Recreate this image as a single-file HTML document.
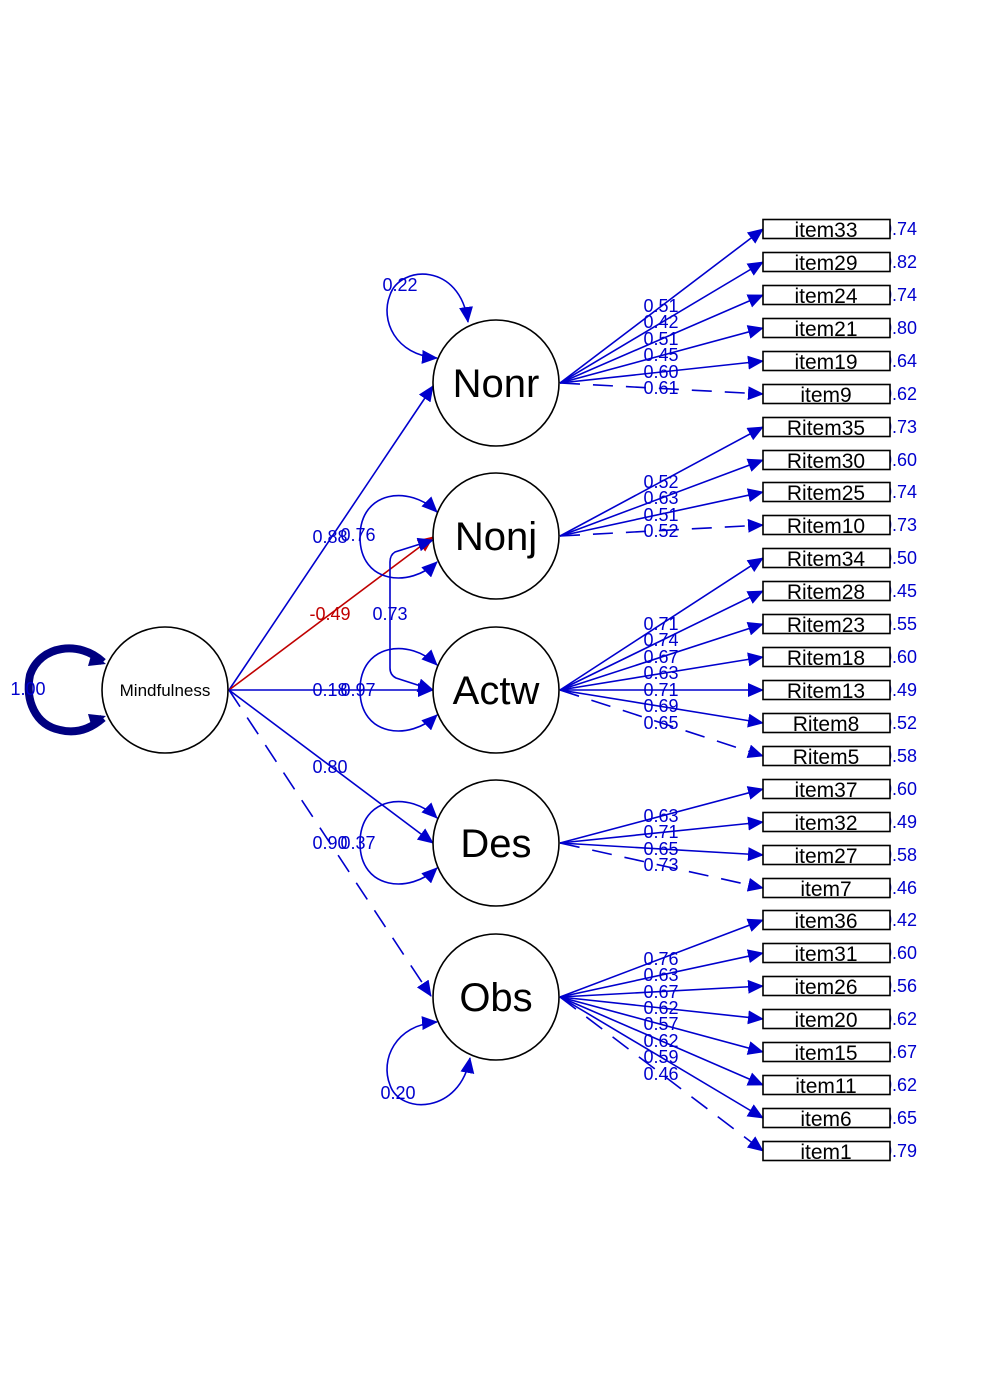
<!DOCTYPE html>
<html><head><meta charset="utf-8"><style>
html,body{margin:0;padding:0;background:#fff}
svg{display:block}
text{font-family:"Liberation Sans",sans-serif}
.b{stroke:#0000CD;stroke-width:1.6;fill:none}
.d{stroke-dasharray:20 13}
.l{fill:#0000CD;font-size:18px;text-anchor:middle}
.box{fill:#fff;stroke:#000;stroke-width:1.6}
.it{font-size:21px;text-anchor:middle;fill:#000}
.r{fill:#0000CD;font-size:18px}
.lat{fill:#fff;stroke:#000;stroke-width:1.6}
.lt{font-size:40px;text-anchor:middle;fill:#000}
</style></head><body>
<svg width="992" height="1381" viewBox="0 0 992 1381" xmlns="http://www.w3.org/2000/svg">
<defs>
<marker id="a" markerUnits="userSpaceOnUse" markerWidth="16" markerHeight="14" refX="15" refY="7" orient="auto"><path d="M0,0 L16,7 L0,14 z" fill="#0000CD"/></marker>
<marker id="ar" markerUnits="userSpaceOnUse" markerWidth="16" markerHeight="14" refX="15" refY="7" orient="auto"><path d="M0,0 L16,7 L0,14 z" fill="#C00000"/></marker>
<marker id="as" markerUnits="userSpaceOnUse" markerWidth="16" markerHeight="14" refX="1" refY="7" orient="auto"><path d="M16,0 L0,7 L16,14 z" fill="#0000CD"/></marker>
</defs>

<path d="M103,662 C80,640 40,645 30,675 C25,700 35,725 60,730 C80,735 95,725 103,718" stroke="#000080" stroke-width="8" fill="none"/>
<path d="M92,652 L106,664 L88,666 z" fill="#000080"/>
<path d="M92,728 L106,716 L88,714 z" fill="#000080"/>

<line class="b" x1="229" y1="690" x2="433" y2="386" marker-end="url(#a)"/>
<line x1="229" y1="690" x2="433" y2="537" stroke="#C00000" stroke-width="1.6" marker-end="url(#ar)"/>
<line class="b" x1="229" y1="690" x2="433" y2="690" marker-end="url(#a)"/>
<line class="b" x1="229" y1="690" x2="433" y2="843" marker-end="url(#a)"/>
<line class="b d" x1="229" y1="690" x2="431" y2="996" marker-end="url(#a)"/>

<path class="b" d="M437,358 C395,355 380,320 390,295 C400,265 460,262 468,322" marker-start="url(#as)" marker-end="url(#a)"/>
<path class="b" d="M437,512 C410,485 360,490 360,537 C360,584 410,588 437,562" marker-start="url(#as)" marker-end="url(#a)"/>
<path class="b" d="M437,665 C410,638 360,643 360,690 C360,737 410,741 437,715" marker-start="url(#as)" marker-end="url(#a)"/>
<path class="b" d="M437,818 C410,791 360,796 360,843 C360,890 410,894 437,868" marker-start="url(#as)" marker-end="url(#a)"/>
<path class="b" d="M437,1022 C395,1025 380,1060 390,1085 C400,1115 460,1114 470,1058" marker-start="url(#as)" marker-end="url(#a)"/>
<path class="b" d="M433,540 L395,552 Q390,555 390,562 L390,668 Q390,675 396,678 L433,690" marker-start="url(#as)" marker-end="url(#a)"/>

<g class="b">
<line x1="560" y1="383" x2="763" y2="229" marker-end="url(#a)"/>
<line x1="560" y1="383" x2="763" y2="262" marker-end="url(#a)"/>
<line x1="560" y1="383" x2="763" y2="295" marker-end="url(#a)"/>
<line x1="560" y1="383" x2="763" y2="328" marker-end="url(#a)"/>
<line x1="560" y1="383" x2="763" y2="361" marker-end="url(#a)"/>
<line class="d" x1="560" y1="383" x2="763" y2="394" marker-end="url(#a)"/>
<line x1="560" y1="536" x2="763" y2="427" marker-end="url(#a)"/>
<line x1="560" y1="536" x2="763" y2="460" marker-end="url(#a)"/>
<line x1="560" y1="536" x2="763" y2="492" marker-end="url(#a)"/>
<line class="d" x1="560" y1="536" x2="763" y2="525" marker-end="url(#a)"/>
<line x1="560" y1="690" x2="763" y2="558" marker-end="url(#a)"/>
<line x1="560" y1="690" x2="763" y2="591" marker-end="url(#a)"/>
<line x1="560" y1="690" x2="763" y2="624" marker-end="url(#a)"/>
<line x1="560" y1="690" x2="763" y2="657" marker-end="url(#a)"/>
<line x1="560" y1="690" x2="763" y2="690" marker-end="url(#a)"/>
<line x1="560" y1="690" x2="763" y2="723" marker-end="url(#a)"/>
<line class="d" x1="560" y1="690" x2="763" y2="756" marker-end="url(#a)"/>
<line x1="560" y1="843" x2="763" y2="789" marker-end="url(#a)"/>
<line x1="560" y1="843" x2="763" y2="822" marker-end="url(#a)"/>
<line x1="560" y1="843" x2="763" y2="855" marker-end="url(#a)"/>
<line class="d" x1="560" y1="843" x2="763" y2="888" marker-end="url(#a)"/>
<line x1="560" y1="997" x2="763" y2="920" marker-end="url(#a)"/>
<line x1="560" y1="997" x2="763" y2="953" marker-end="url(#a)"/>
<line x1="560" y1="997" x2="763" y2="986" marker-end="url(#a)"/>
<line x1="560" y1="997" x2="763" y2="1019" marker-end="url(#a)"/>
<line x1="560" y1="997" x2="763" y2="1052" marker-end="url(#a)"/>
<line x1="560" y1="997" x2="763" y2="1085" marker-end="url(#a)"/>
<line x1="560" y1="997" x2="763" y2="1118" marker-end="url(#a)"/>
<line class="d" x1="560" y1="997" x2="763" y2="1151" marker-end="url(#a)"/>
</g>

<circle class="lat" cx="165" cy="690" r="63"/>
<text x="165" y="696" font-size="17" text-anchor="middle">Mindfulness</text>
<circle class="lat" cx="496" cy="383" r="63"/><text class="lt" x="496" y="397">Nonr</text>
<circle class="lat" cx="496" cy="536" r="63"/><text class="lt" x="496" y="550">Nonj</text>
<circle class="lat" cx="496" cy="690" r="63"/><text class="lt" x="496" y="704">Actw</text>
<circle class="lat" cx="496" cy="843" r="63"/><text class="lt" x="496" y="857">Des</text>
<circle class="lat" cx="496" cy="997" r="63"/><text class="lt" x="496" y="1011">Obs</text>

<g class="r">
<text x="882" y="235">0.74</text><text x="882" y="268">0.82</text><text x="882" y="301">0.74</text><text x="882" y="334">0.80</text><text x="882" y="367">0.64</text><text x="882" y="400">0.62</text>
<text x="882" y="433">0.73</text><text x="882" y="466">0.60</text><text x="882" y="498">0.74</text><text x="882" y="531">0.73</text>
<text x="882" y="564">0.50</text><text x="882" y="597">0.45</text><text x="882" y="630">0.55</text><text x="882" y="663">0.60</text><text x="882" y="696">0.49</text><text x="882" y="729">0.52</text><text x="882" y="762">0.58</text>
<text x="882" y="795">0.60</text><text x="882" y="828">0.49</text><text x="882" y="861">0.58</text><text x="882" y="894">0.46</text>
<text x="882" y="926">0.42</text><text x="882" y="959">0.60</text><text x="882" y="992">0.56</text><text x="882" y="1025">0.62</text><text x="882" y="1058">0.67</text><text x="882" y="1091">0.62</text><text x="882" y="1124">0.65</text><text x="882" y="1157">0.79</text>
</g>

<g>
<rect class="box" x="763" y="219.5" width="127" height="19"/><text class="it" x="826" y="237">item33</text>
<rect class="box" x="763" y="252.5" width="127" height="19"/><text class="it" x="826" y="270">item29</text>
<rect class="box" x="763" y="285.5" width="127" height="19"/><text class="it" x="826" y="303">item24</text>
<rect class="box" x="763" y="318.5" width="127" height="19"/><text class="it" x="826" y="336">item21</text>
<rect class="box" x="763" y="351.5" width="127" height="19"/><text class="it" x="826" y="369">item19</text>
<rect class="box" x="763" y="384.5" width="127" height="19"/><text class="it" x="826" y="402">item9</text>
<rect class="box" x="763" y="417.5" width="127" height="19"/><text class="it" x="826" y="435">Ritem35</text>
<rect class="box" x="763" y="450.5" width="127" height="19"/><text class="it" x="826" y="468">Ritem30</text>
<rect class="box" x="763" y="482.5" width="127" height="19"/><text class="it" x="826" y="500">Ritem25</text>
<rect class="box" x="763" y="515.5" width="127" height="19"/><text class="it" x="826" y="533">Ritem10</text>
<rect class="box" x="763" y="548.5" width="127" height="19"/><text class="it" x="826" y="566">Ritem34</text>
<rect class="box" x="763" y="581.5" width="127" height="19"/><text class="it" x="826" y="599">Ritem28</text>
<rect class="box" x="763" y="614.5" width="127" height="19"/><text class="it" x="826" y="632">Ritem23</text>
<rect class="box" x="763" y="647.5" width="127" height="19"/><text class="it" x="826" y="665">Ritem18</text>
<rect class="box" x="763" y="680.5" width="127" height="19"/><text class="it" x="826" y="698">Ritem13</text>
<rect class="box" x="763" y="713.5" width="127" height="19"/><text class="it" x="826" y="731">Ritem8</text>
<rect class="box" x="763" y="746.5" width="127" height="19"/><text class="it" x="826" y="764">Ritem5</text>
<rect class="box" x="763" y="779.5" width="127" height="19"/><text class="it" x="826" y="797">item37</text>
<rect class="box" x="763" y="812.5" width="127" height="19"/><text class="it" x="826" y="830">item32</text>
<rect class="box" x="763" y="845.5" width="127" height="19"/><text class="it" x="826" y="863">item27</text>
<rect class="box" x="763" y="878.5" width="127" height="19"/><text class="it" x="826" y="896">item7</text>
<rect class="box" x="763" y="910.5" width="127" height="19"/><text class="it" x="826" y="928">item36</text>
<rect class="box" x="763" y="943.5" width="127" height="19"/><text class="it" x="826" y="961">item31</text>
<rect class="box" x="763" y="976.5" width="127" height="19"/><text class="it" x="826" y="994">item26</text>
<rect class="box" x="763" y="1009.5" width="127" height="19"/><text class="it" x="826" y="1027">item20</text>
<rect class="box" x="763" y="1042.5" width="127" height="19"/><text class="it" x="826" y="1060">item15</text>
<rect class="box" x="763" y="1075.5" width="127" height="19"/><text class="it" x="826" y="1093">item11</text>
<rect class="box" x="763" y="1108.5" width="127" height="19"/><text class="it" x="826" y="1126">item6</text>
<rect class="box" x="763" y="1141.5" width="127" height="19"/><text class="it" x="826" y="1159">item1</text>
</g>

<g class="l">
<text x="661" y="312">0.51</text><text x="661" y="328">0.42</text><text x="661" y="345">0.51</text><text x="661" y="361">0.45</text><text x="661" y="378">0.60</text><text x="661" y="394">0.61</text>
<text x="661" y="488">0.52</text><text x="661" y="504">0.63</text><text x="661" y="521">0.51</text><text x="661" y="537">0.52</text>
<text x="661" y="630">0.71</text><text x="661" y="646">0.74</text><text x="661" y="663">0.67</text><text x="661" y="679">0.63</text><text x="661" y="696">0.71</text><text x="661" y="712">0.69</text><text x="661" y="729">0.65</text>
<text x="661" y="822">0.63</text><text x="661" y="838">0.71</text><text x="661" y="855">0.65</text><text x="661" y="871">0.73</text>
<text x="661" y="965">0.76</text><text x="661" y="981">0.63</text><text x="661" y="998">0.67</text><text x="661" y="1014">0.62</text><text x="661" y="1030">0.57</text><text x="661" y="1047">0.62</text><text x="661" y="1063">0.59</text><text x="661" y="1080">0.46</text>
<text x="330" y="543">0.88</text><text x="358" y="541">0.76</text>
<text x="330" y="620" fill="#C00000">-0.49</text><text x="390" y="620">0.73</text>
<text x="330" y="696">0.18</text><text x="358" y="696">0.97</text>
<text x="330" y="773">0.80</text>
<text x="330" y="849">0.90</text><text x="358" y="849">0.37</text>
<text x="400" y="291">0.22</text><text x="398" y="1099">0.20</text>
<text x="28" y="695" fill="#0000CD">1.00</text>
</g>
</svg>
</body></html>
